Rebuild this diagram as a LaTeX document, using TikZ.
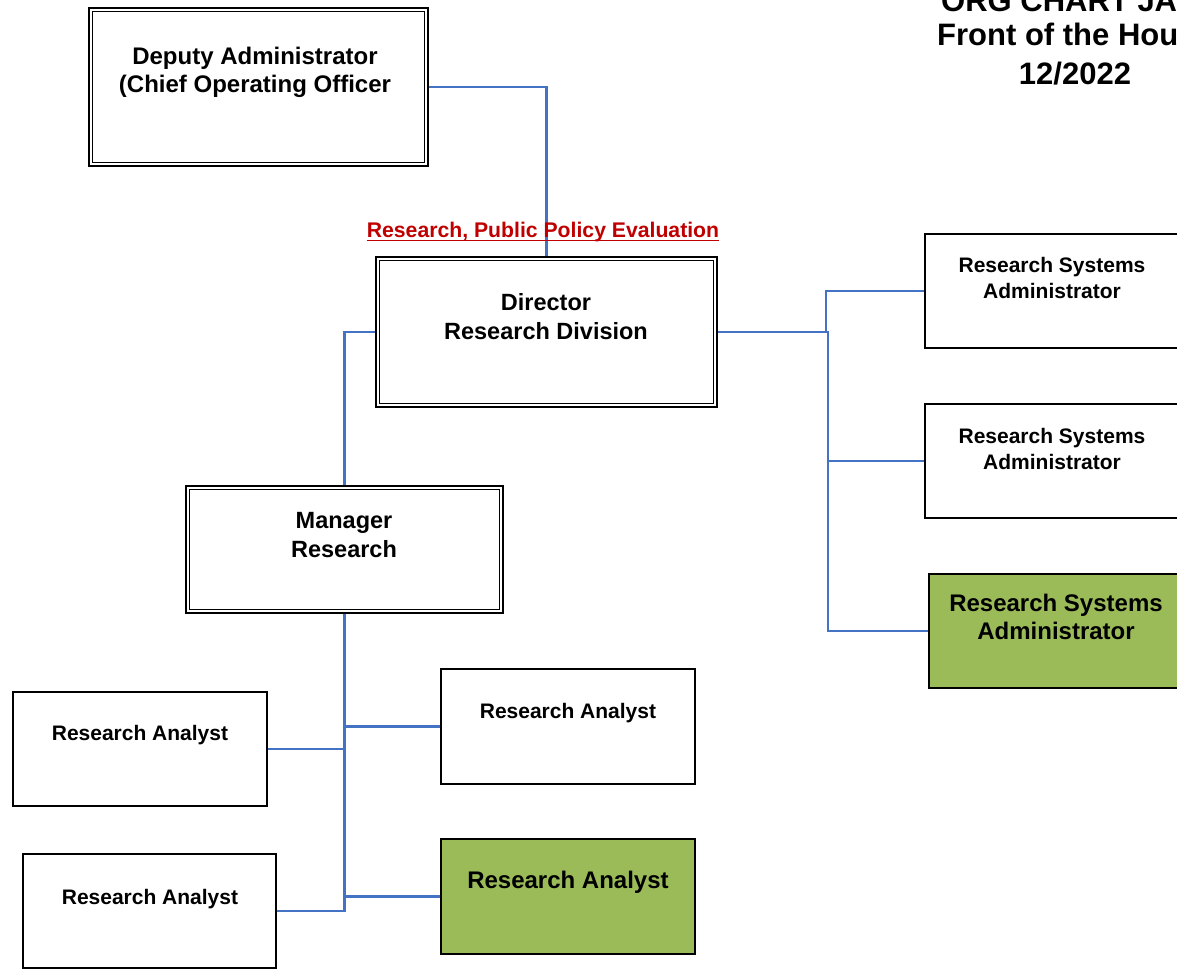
\documentclass[tikz,border=0pt]{standalone}
\usepackage{fontspec}
\setmainfont{Liberation Sans}
\definecolor{conn}{HTML}{4472C4}
\definecolor{boxgreen}{HTML}{9BBB59}
\definecolor{redtxt}{HTML}{C00000}
\newcommand\fs[2]{\fontsize{#1}{#2}\selectfont}
\begin{document}
\begin{tikzpicture}[x=1pt, y=-1pt,
  box/.style={draw=black, line width=2.4pt, inner sep=0pt},
  dbox/.style={draw=black, line width=2.8pt, inner sep=0pt},
  gbox/.style={box, fill=boxgreen},
  link/.style={draw=conn, line width=2.2pt},
  lbl/.style={font=\bfseries, align=center, inner sep=0pt},
]
\useasboundingbox (0,0) rectangle (1177,969);
\clip (0,0) rectangle (1177,969);
\fill[white] (0,0) rectangle (1177,969);

% title block
\node[lbl, anchor=base west, font=\bfseries\fs{31}{37}] (t1) at (941,11) {ORG CHART JA};
\node[lbl, anchor=base, font=\bfseries\fs{31}{37}] (t2) at (1075,45) {Front of the House};
\node[lbl, anchor=base, font=\bfseries\fs{31}{37}] (t3) at (1075,84) {12/2022};

% boxes (double framed)
\node[dbox, minimum width=339pt, minimum height=158pt] (dep) at (258.5,87) {};
\node[dbox, minimum width=341pt, minimum height=150pt] (dir) at (546.5,332) {};
\node[dbox, minimum width=317pt, minimum height=127pt] (mgr) at (344.5,549.5) {};
\foreach \n in {dep,dir,mgr}
  \draw[line width=1.6pt] ([shift={(5,5)}]\n.north west) rectangle ([shift={(-5,-5)}]\n.south east);

% boxes (single framed)
\node[box, minimum width=254pt, minimum height=114pt] (rsa1) at (1052,291) {};
\node[box, minimum width=254pt, minimum height=114pt] (rsa2) at (1052,461) {};
\node[gbox, minimum width=254pt, minimum height=114pt] (rsa3) at (1056,631) {};
\node[box, minimum width=254pt, minimum height=114pt] (ra1) at (140,749) {};
\node[box, minimum width=253pt, minimum height=114pt] (ra2) at (149.5,911) {};
\node[box, minimum width=254pt, minimum height=115pt] (ra3) at (568,726.5) {};
\node[gbox, minimum width=254pt, minimum height=115pt] (ra4) at (568,896.5) {};

% texts
\node[lbl, font=\bfseries\fs{24}{28}] (deptxt) at (255,72) {Deputy Administrator\\(Chief Operating Officer};
\node[lbl, font=\bfseries\fs{23.5}{29}] (dirtxt) at (546,317) {Director\\Research Division};
\node[lbl, font=\bfseries\fs{23.5}{29}] (mgrtxt) at (344,535) {Manager\\Research};
\node[lbl, font=\bfseries\fs{21}{26}] (rsa1txt) at (1052,278) {Research Systems\\Administrator};
\node[lbl, font=\bfseries\fs{21}{26}] (rsa2txt) at (1052,449) {Research Systems\\Administrator};
\node[lbl, font=\bfseries\fs{24}{28}] (rsa3txt) at (1056,617) {Research Systems\\Administrator};
\node[lbl, font=\bfseries\fs{21}{26}] (ra1txt) at (140,735) {Research Analyst};
\node[lbl, font=\bfseries\fs{21}{26}] (ra2txt) at (150,899) {Research Analyst};
\node[lbl, font=\bfseries\fs{21}{26}] (ra3txt) at (568,713) {Research Analyst};
\node[lbl, font=\bfseries\fs{24}{28}] (ra4txt) at (568,882) {Research Analyst};

% connectors
\draw[link] (dep.east) -| (dir.north);
\node[lbl, anchor=base, text=redtxt, font=\bfseries\fs{21.2}{26}] (policy) at (543,237.5) {Research, Public Policy Evaluation};
\draw[redtxt, line width=1.8pt] ([yshift=-3pt]policy.base west) -- ([yshift=-3pt]policy.base east);

\draw[link] (dir.west) -| (mgr.north);
\coordinate (rb1) at (826,332);
\coordinate (rb2) at (828,332);
\draw[link] (dir.east) -- (rb1) |- (rsa1.west);
\draw[link] (dir.east) -- (rb2) |- (rsa2.west);
\draw[link] (rb2) |- (rsa3.west);

\draw[link] (mgr.south) |- (ra2.east);
\draw[link] (ra1.east) -- (ra1.east -| mgr.south);
\draw[link] (ra3.west) -- (ra3.west -| mgr.south);
\draw[link] (ra4.west) -- (ra4.west -| mgr.south);
\end{tikzpicture}
\end{document}
